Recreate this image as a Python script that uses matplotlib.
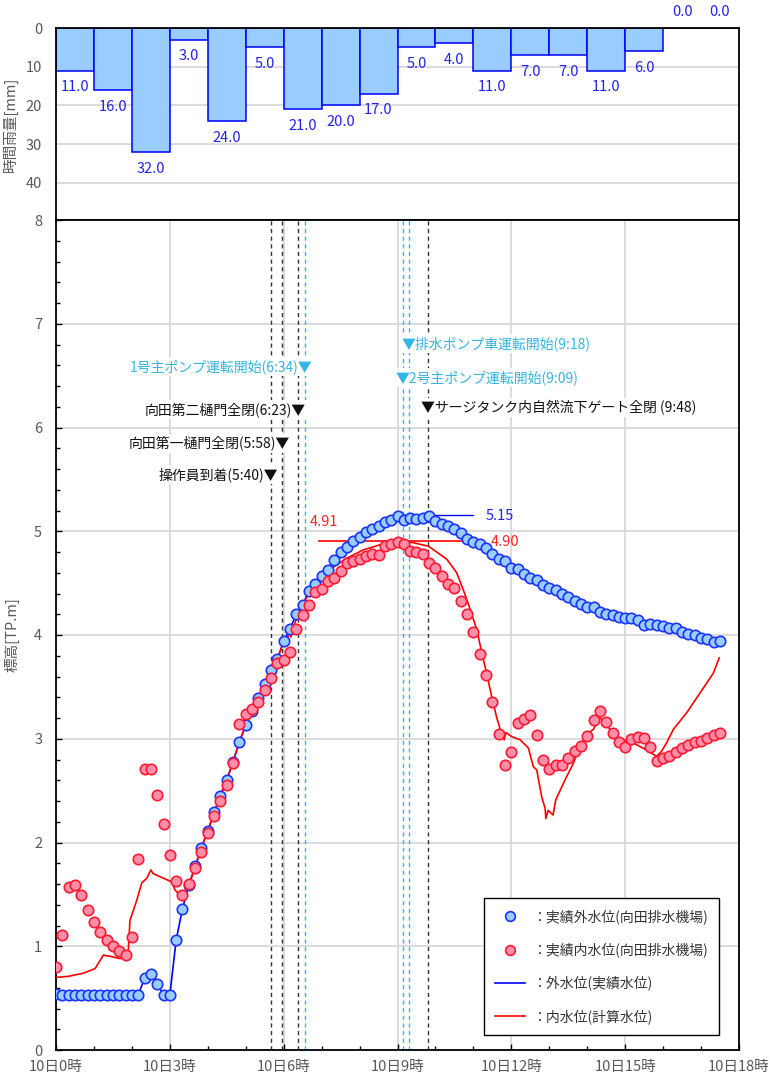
import numpy as np
import matplotlib
matplotlib.use('Agg')
import matplotlib.pyplot as plt
from matplotlib.lines import Line2D
from matplotlib.ticker import MultipleLocator, FixedLocator

plt.rcParams['font.family'] = ['Noto Sans CJK JP', 'DejaVu Sans']

# ---------------- data ----------------
rain_hours = list(range(18))
rain_mm = [11, 16, 32, 3, 24, 5, 21, 20, 17, 5, 4, 11, 7, 7, 11, 6, 0, 0]

# observed outer water level, every 10 minutes from 0:00 to 17:30
outer_obs = [
    0.54, 0.53, 0.53, 0.53, 0.53, 0.53,
    0.53, 0.53, 0.53, 0.53, 0.53, 0.53,
    0.53, 0.53, 0.69, 0.73, 0.64, 0.53,
    0.53, 1.06, 1.36, 1.59, 1.77, 1.95,
    2.11, 2.29, 2.45, 2.60, 2.78, 2.97,
    3.13, 3.27, 3.39, 3.53, 3.66, 3.77,
    3.94, 4.06, 4.20, 4.29, 4.42, 4.49,
    4.57, 4.63, 4.72, 4.80, 4.85, 4.91,
    4.94, 4.99, 5.02, 5.05, 5.09, 5.11,
    5.15, 5.11, 5.13, 5.12, 5.13, 5.15,
    5.10, 5.07, 5.05, 5.02, 4.98, 4.93,
    4.90, 4.88, 4.84, 4.78, 4.73, 4.71,
    4.65, 4.64, 4.59, 4.55, 4.53, 4.48,
    4.45, 4.43, 4.40, 4.37, 4.33, 4.30,
    4.27, 4.27, 4.22, 4.20, 4.19, 4.17,
    4.16, 4.16, 4.14, 4.10, 4.11, 4.10,
    4.09, 4.07, 4.07, 4.03, 4.01, 4.00,
    3.97, 3.96, 3.93, 3.94,
]

# observed inner water level, every 10 minutes from 0:00 to 17:30
inner_obs = [
    0.80, 1.11, 1.57, 1.59, 1.49, 1.35,
    1.23, 1.14, 1.06, 1.00, 0.95, 0.92,
    1.09, 1.84, 2.71, 2.71, 2.46, 2.18,
    1.88, 1.63, 1.49, 1.60, 1.75, 1.91,
    2.09, 2.26, 2.40, 2.55, 2.77, 3.14,
    3.24, 3.29, 3.35, 3.47, 3.59, 3.73,
    3.76, 3.84, 4.06, 4.19, 4.29, 4.41,
    4.44, 4.52, 4.55, 4.62, 4.69, 4.71,
    4.73, 4.76, 4.78, 4.77, 4.86, 4.88,
    4.90, 4.88, 4.81, 4.80, 4.78, 4.69,
    4.65, 4.57, 4.49, 4.45, 4.33, 4.20,
    4.03, 3.82, 3.61, 3.35, 3.05, 2.75,
    2.87, 3.15, 3.19, 3.23, 3.04, 2.80,
    2.71, 2.75, 2.75, 2.81, 2.88, 2.93,
    3.03, 3.18, 3.27, 3.16, 3.06, 2.97,
    2.92, 3.00, 3.02, 3.01, 2.92, 2.79,
    2.81, 2.83, 2.87, 2.91, 2.94, 2.97,
    2.98, 3.01, 3.04, 3.06,
]

# calculated inner water level (hours, m)
calc_time = [
    0.00, 0.32, 0.72, 1.03, 1.25, 1.47, 1.69, 1.86, 1.90, 1.95,
    2.13, 2.26, 2.39, 2.50, 2.56, 3.05, 3.14, 3.22, 3.31,
    3.50, 3.67, 3.83, 4.00, 4.17, 4.33, 4.50, 4.67, 4.83, 5.00,
    5.17, 5.33, 5.50, 5.67, 5.83, 6.00, 6.12, 6.16, 6.19, 6.30,
    6.47, 6.69, 6.96, 7.22, 7.66, 8.10, 8.54, 8.89, 9.02, 9.41,
    9.82, 10.30, 10.56, 10.78, 10.95, 11.09, 11.22, 11.35, 11.48, 11.61,
    11.74, 11.79, 11.81, 11.86, 12.01, 12.23, 12.45, 12.58, 12.67, 12.80,
    12.89, 12.91, 12.97, 13.10, 13.17, 13.41, 13.63, 13.81, 13.98, 14.16,
    14.33, 14.42, 14.60, 14.77, 14.95, 15.21, 15.57, 15.83, 15.96, 16.09,
    16.27, 16.62, 16.97, 17.32, 17.48,
]
calc_level = [
    0.70, 0.71, 0.74, 0.785, 0.915, 0.90, 0.88, 0.90, 0.93, 1.25,
    1.445, 1.61, 1.655, 1.735, 1.70, 1.62, 1.54, 1.51, 1.50,
    1.59, 1.76, 1.95, 2.11, 2.29, 2.45, 2.60, 2.78, 2.97, 3.13,
    3.27, 3.39, 3.53, 3.66, 3.77, 3.93, 3.99, 4.04, 3.98, 4.12,
    4.28, 4.41, 4.53, 4.63, 4.74, 4.82, 4.87, 4.90, 4.91, 4.89,
    4.855, 4.73, 4.60, 4.39, 4.21, 4.05, 3.83, 3.63, 3.41, 3.21,
    3.05, 3.04, 2.99, 3.06, 3.02, 2.99, 2.91, 2.73, 2.70, 2.44,
    2.33, 2.23, 2.31, 2.265, 2.41, 2.60, 2.76, 2.925, 3.04, 3.09,
    3.20, 3.18, 3.09, 3.006, 2.99, 2.96, 2.89, 2.83, 2.88, 2.96,
    3.09, 3.25, 3.44, 3.63, 3.78,
]

# events
event_time = [5 + 40/60, 5 + 58/60, 6 + 23/60, 6 + 34/60, 9 + 9/60, 9 + 18/60, 9 + 48/60]
event_label = ['操作員到着(5:40)▼', '向田第一樋門全閉(5:58)▼', '向田第二樋門全閉(6:23)▼',
               '1号主ポンプ運転開始(6:34)▼', '▼2号主ポンプ運転開始(9:09)',
               '▼排水ポンプ車運転開始(9:18)', '▼サージタンク内自然流下ゲート全閉 (9:48)']
event_kind = ['gate', 'gate', 'gate', 'pump', 'pump', 'pump', 'gate']
event_side = ['left', 'left', 'left', 'left', 'right', 'right', 'right']
event_label_y = [5.545, 5.85, 6.175, 6.59, 6.48, 6.81, 6.19]

peak_outer = 5.15
peak_inner_obs = 4.90
peak_inner_calc = 4.91

xtick_hours = [0, 3, 6, 9, 12, 15, 18]
xtick_labels = ['10日%d時' % h for h in xtick_hours]

# ---------------- styling ----------------
BLUE_EDGE = '#1a33ff'
BLUE_FILL = '#99ccff'
RED_EDGE = '#ff1a33'
RED_FILL = '#ff8fa8'
CYAN = '#33b5e5'
GRID = '#d9d9d9'
TICKTXT = '#595959'

W, H = 769, 1083
fig = plt.figure(figsize=(W / 100, H / 100), dpi=100)


def rect(l, t, r, b):
    return [l / W, 1 - b / H, (r - l) / W, (b - t) / H]


ax1 = fig.add_axes(rect(56, 28, 739, 220))
ax2 = fig.add_axes(rect(56, 220, 739, 1050))

# ---------------- rainfall panel ----------------
ax1.bar(rain_hours, rain_mm, width=1.0, align='edge', color=BLUE_FILL,
        edgecolor='#0000ff', linewidth=1.1, zorder=2)
for h, v in zip(rain_hours, rain_mm):
    off = 4.3 if v > 0 else -4.2
    ax1.text(h + 0.5, v + off, '%.1f' % v, ha='center', va='center',
             fontsize=10.5, color='#2222ee', clip_on=False)
ax1.set_xlim(0, 18)
ax1.set_ylim(49.6, 0)
ax1.set_yticks([0, 10, 20, 30, 40])
ax1.set_xticks([])
ax1.yaxis.grid(True, color=GRID, lw=1.3)
ax1.set_axisbelow(True)
ax1.tick_params(axis='y', length=0, pad=10, labelsize=10.5, labelcolor=TICKTXT)
ax1.set_ylabel('時間雨量[mm]', color=TICKTXT, fontsize=10.5)
ax1.yaxis.set_label_coords((18 - 56) / 683, 0.5)
for s in ax1.spines.values():
    s.set_color('black')
    s.set_linewidth(1.3)

# ---------------- water level panel ----------------
t10 = np.arange(len(outer_obs)) * 10 / 60.0

ax2.set_xlim(0, 18)
ax2.set_ylim(0, 8)
ax2.xaxis.set_major_locator(FixedLocator(xtick_hours))
ax2.set_xticklabels(xtick_labels)
ax2.xaxis.set_minor_locator(MultipleLocator(1))
ax2.yaxis.set_major_locator(MultipleLocator(1))
ax2.yaxis.set_minor_locator(MultipleLocator(0.2))
ax2.tick_params(which='both', direction='in', labelsize=10.5, labelcolor=TICKTXT)
ax2.tick_params(which='major', length=4, width=1)
ax2.tick_params(which='minor', length=3, width=1)
ax2.tick_params(axis='x', pad=7)
ax2.tick_params(axis='y', pad=10)
ax2.grid(True, which='major', color=GRID, lw=1.3)
ax2.set_axisbelow(True)
ax2.set_ylabel('標高[TP.m]', color=TICKTXT, fontsize=10.5)
ax2.yaxis.set_label_coords((20 - 56) / 683, 0.5)
for s in ax2.spines.values():
    s.set_color('black')
    s.set_linewidth(1.3)

# event lines and labels
for t, lab, kind, side, ly in zip(event_time, event_label, event_kind, event_side, event_label_y):
    col = CYAN if kind == 'pump' else '#333333'
    tcol = CYAN if kind == 'pump' else '#111111'
    ax2.axvline(t, color=col, lw=1.0, ls=(0, (3, 2.5)), zorder=1.5)
    if side == 'left':
        ax2.annotate(lab, xy=(t, ly), xytext=(5.2, 0), textcoords='offset points',
                     ha='right', va='center', fontsize=10, color=tcol, zorder=2,
                     bbox=dict(fc='white', ec='none', pad=1.5))
    else:
        ax2.annotate(lab, xy=(t, ly), xytext=(-5.2, 0), textcoords='offset points',
                     ha='left', va='center', fontsize=10, color=tcol, zorder=2,
                     bbox=dict(fc='white', ec='none', pad=1.5))

# lines
ax2.plot(t10, outer_obs, color='#0000ff', lw=1.2, zorder=3)
ax2.plot(calc_time, calc_level, color='#ff0000', lw=1.2, zorder=3.2)

# markers
ax2.plot(t10, outer_obs, 'o', ms=7.5, mfc=BLUE_FILL, mec=BLUE_EDGE, mew=1.2, zorder=4)
ax2.plot(t10, inner_obs, 'o', ms=7.5, mfc=RED_FILL, mec=RED_EDGE, mew=1.2, zorder=5)

# peak annotations
ax2.plot([9.0, 11.0], [peak_outer + 0.005, peak_outer + 0.005], color='#0000ff', lw=1.0, zorder=3)
ax2.text(11.32, peak_outer, '%.2f' % peak_outer, color='#2222ee', fontsize=10.5,
         ha='left', va='center')
ax2.plot([6.93, 10.91], [peak_inner_obs + 0.005, peak_inner_obs + 0.005], color='#ff0000', lw=1.2, zorder=3)
ax2.text(11.45, peak_inner_obs, '%.2f' % peak_inner_obs, color='#ff2222', fontsize=10.5,
         ha='left', va='center')
ax2.text(6.68, 5.085, '%.2f' % peak_inner_calc, color='#ff2222', fontsize=10.5,
         ha='left', va='center')

# legend
handles = [
    Line2D([], [], marker='o', ls='none', ms=7, mfc=BLUE_FILL, mec=BLUE_EDGE, mew=1.2),
    Line2D([], [], marker='o', ls='none', ms=7, mfc=RED_FILL, mec=RED_EDGE, mew=1.2),
    Line2D([], [], color='#0000ff', lw=1.2),
    Line2D([], [], color='#ff0000', lw=1.2),
]
labels = ['：実績外水位(向田排水機場)', '：実績内水位(向田排水機場)',
          '：外水位(実績水位)', '：内水位(計算水位)']
leg = ax2.legend(handles, labels, loc='lower right',
                 bbox_to_anchor=((719 - 56) / 683, (1050 - 1035) / 830),
                 frameon=True, fancybox=False, edgecolor='black', framealpha=1,
                 fontsize=10, labelspacing=1.32, handlelength=2.2,
                 handletextpad=0.5, borderpad=0.8, borderaxespad=0)
leg.get_frame().set_linewidth(1.0)
for txt in leg.get_texts():
    txt.set_color('#333333')
leg.set_zorder(10)

fig.savefig('out.png', dpi=100)
